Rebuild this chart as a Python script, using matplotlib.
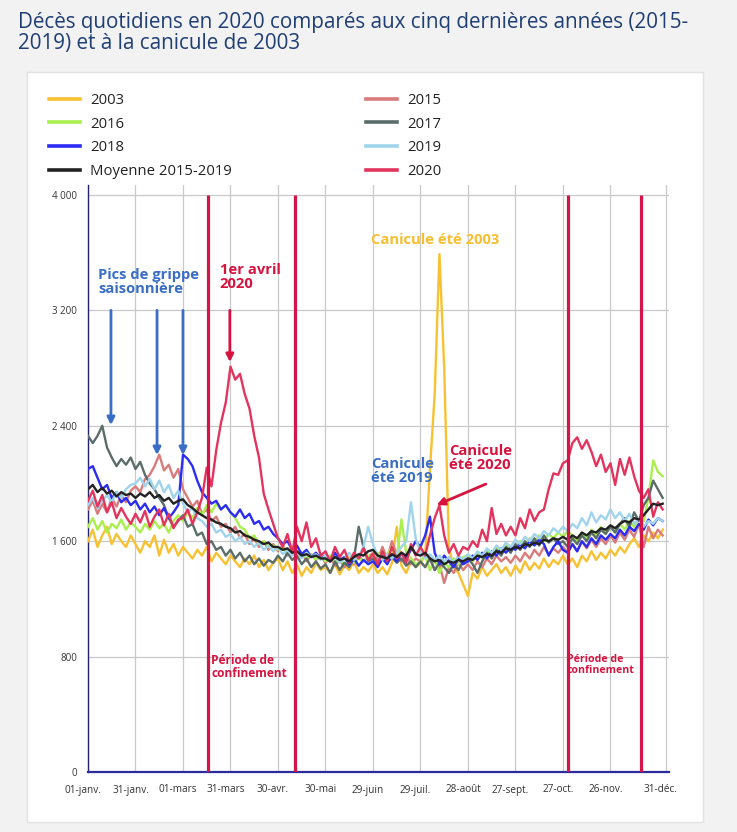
import matplotlib
matplotlib.use('Agg')
import matplotlib.pyplot as plt
import matplotlib.transforms as mtrans
from matplotlib.patches import Rectangle

plt.rcParams['font.family'] = ['Open Sans', 'DejaVu Sans']

# ---------------- data ----------------
days = list(range(0, 366, 3))  # day of year (0 = 1 Jan), sampled every 3 days

tick_days = [0, 30, 60, 90, 120, 150, 180, 210, 240, 270, 300, 330, 365]
tick_labels = ['01-janv.', '31-janv.', '01-mars', '31-mars', '30-avr.', '30-mai',
               '29-juin', '29-juil.', '28-août', '27-sept.', '27-oct.', '26-nov.', '31-déc.']
y_ticks = [0, 800, 1600, 2400, 3200, 4000]
y_tick_labels = ['0', '800', '1 600', '2 400', '3 200', '4 000']
confinement_days = [76, 131, 303, 349]

y2003 = [
    1600, 1680, 1560, 1640, 1700, 1580, 1650, 1600, 1560, 1640,
    1580, 1520, 1600, 1560, 1640, 1500, 1610, 1520, 1580, 1500,
    1560, 1520, 1480, 1540, 1500, 1560, 1460, 1520, 1480, 1440,
    1500, 1460, 1420, 1480, 1440, 1500, 1420, 1470, 1400, 1450,
    1480, 1400, 1460, 1380, 1440, 1360, 1420, 1380, 1450, 1400,
    1420, 1380, 1440, 1370, 1430, 1400, 1460, 1380, 1420, 1390,
    1440, 1380, 1420, 1370, 1450, 1700, 1430, 1380, 1460, 1420,
    1450, 1500, 2100, 2620, 3590, 2800, 1550, 1420, 1380, 1300,
    1220, 1380, 1340, 1420, 1360, 1400, 1440, 1380, 1420, 1360,
    1430, 1380, 1460, 1400, 1450, 1410, 1480, 1420, 1470, 1440,
    1500, 1440, 1480, 1420, 1500, 1460, 1530, 1470, 1520, 1480,
    1540, 1500, 1560, 1520, 1580, 1620, 1560, 1640, 1600, 1660,
    1620, 1680]

y2015 = [
    1820, 1880, 1790, 1860, 1800, 1900, 1840, 1920, 1870, 1950,
    1980, 1940, 2030, 2060, 2120, 2200, 2090, 2130, 2040, 2100,
    1960, 1900, 1840, 1880, 1790, 1820, 1740, 1770, 1700, 1720,
    1660, 1700, 1620, 1650, 1580, 1620, 1560, 1600, 1540, 1580,
    1530, 1570, 1500, 1550, 1480, 1520, 1460, 1510, 1470, 1500,
    1450, 1490, 1430, 1470, 1420, 1480, 1440, 1500, 1460, 1490,
    1520, 1470, 1560, 1480, 1600, 1510, 1460, 1500, 1440, 1480,
    1460, 1420, 1480, 1400, 1440, 1310, 1420, 1380, 1450, 1400,
    1440, 1400, 1460, 1420, 1480, 1440, 1500, 1460, 1490, 1450,
    1500, 1460, 1520, 1480, 1540, 1500, 1560, 1510, 1550, 1520,
    1560, 1520, 1580, 1530, 1600, 1550, 1610, 1560, 1620, 1580,
    1640, 1590, 1660, 1610, 1680, 1630, 1720, 1560, 1700, 1620,
    1680, 1640]

y2016 = [
    1700, 1760, 1680, 1740, 1660, 1720, 1690, 1750, 1680, 1730,
    1700, 1660, 1720, 1680, 1740, 1690, 1720, 1660, 1740, 1780,
    1740, 1800, 1760, 1830, 1780, 1850, 1800, 1860, 1820, 1850,
    1800, 1760, 1700, 1680, 1620, 1640, 1580, 1600, 1560, 1570,
    1540, 1560, 1510, 1540, 1490, 1520, 1480, 1510, 1470, 1500,
    1460, 1500, 1450, 1480, 1440, 1490, 1450, 1480, 1460, 1500,
    1480, 1520, 1470, 1510, 1560, 1480, 1750, 1520, 1480, 1440,
    1460, 1500, 1400, 1470, 1380, 1450, 1420, 1480, 1440, 1490,
    1500, 1460, 1520, 1480, 1540, 1500, 1560, 1520, 1580, 1540,
    1560, 1600, 1570, 1620, 1580, 1640, 1600, 1650, 1620, 1660,
    1630, 1670, 1640, 1600, 1660, 1620, 1680, 1640, 1700, 1660,
    1700, 1660, 1720, 1680, 1740, 1700, 1760, 1740, 1900, 2160,
    2080, 2050]

y2017 = [
    2330, 2280, 2330, 2400, 2250, 2180, 2120, 2170, 2130, 2180,
    2100, 2150, 2060, 2000, 1960, 1900, 1850, 1760, 1700, 1740,
    1780, 1700, 1720, 1640, 1660, 1580, 1600, 1540, 1560, 1500,
    1540, 1480, 1520, 1460, 1500, 1440, 1480, 1430, 1470, 1450,
    1500, 1460, 1520, 1470, 1500, 1440, 1480, 1420, 1460, 1410,
    1440, 1380, 1460, 1400, 1450, 1420, 1480, 1700, 1560, 1460,
    1480, 1440, 1500, 1460, 1490, 1450, 1480, 1430, 1460, 1420,
    1460, 1420, 1480, 1400, 1450, 1420, 1380, 1440, 1400, 1460,
    1480, 1440, 1380, 1460, 1520, 1480, 1540, 1500, 1560, 1520,
    1580, 1540, 1600, 1560, 1620, 1570, 1640, 1590, 1620, 1580,
    1600, 1560, 1620, 1580, 1640, 1600, 1660, 1620, 1680, 1650,
    1700, 1660, 1720, 1760, 1700, 1800, 1740, 1850, 1900, 2020,
    1960, 1900]

y2018 = [
    2100, 2120, 2040, 1960, 1990, 1900, 1940, 1870, 1900, 1850,
    1880, 1820, 1860, 1800, 1840, 1780, 1830, 1760, 1800, 1850,
    2200, 2170, 2120, 2020, 1940, 1900, 1860, 1880, 1820, 1850,
    1800, 1770, 1820, 1760, 1790, 1720, 1740, 1680, 1700, 1650,
    1620, 1580, 1600, 1540, 1570, 1510, 1540, 1490, 1520, 1480,
    1500, 1460, 1520, 1470, 1490, 1440, 1480, 1430, 1470, 1440,
    1460, 1420, 1480, 1440, 1500, 1460, 1520, 1480, 1540, 1600,
    1560, 1640, 1770, 1520, 1440, 1500, 1460, 1420, 1480, 1440,
    1460, 1500, 1470, 1520, 1480, 1530, 1500, 1550, 1520, 1560,
    1540, 1580, 1550, 1600, 1570, 1610, 1580, 1500, 1560, 1600,
    1540, 1520, 1580, 1530, 1600, 1560, 1620, 1580, 1640, 1610,
    1650, 1620, 1680, 1640, 1700, 1670, 1720, 1680, 1750, 1710,
    1760, 1740]

y2019 = [
    1850, 1900, 1830, 1880, 1920, 1870, 1940, 1900, 1960, 1990,
    2000, 2040, 1980, 2030, 1960, 2020, 1940, 1990, 1900, 1950,
    1860, 1800, 1830, 1760, 1740, 1700, 1720, 1660, 1680, 1630,
    1650, 1600, 1630, 1580, 1600, 1560, 1590, 1540, 1570, 1530,
    1560, 1510, 1540, 1500, 1530, 1480, 1520, 1490, 1510, 1470,
    1500, 1460, 1490, 1450, 1480, 1520, 1470, 1500, 1560, 1700,
    1580, 1500, 1470, 1510, 1480, 1520, 1560, 1600, 1870, 1620,
    1520, 1480, 1510, 1470, 1500, 1460, 1490, 1450, 1500, 1470,
    1510, 1480, 1530, 1500, 1550, 1520, 1570, 1540, 1590, 1560,
    1610, 1580, 1630, 1600, 1650, 1620, 1670, 1640, 1690, 1660,
    1700, 1670, 1720, 1690, 1760, 1710, 1800, 1730, 1780, 1750,
    1820, 1760, 1800, 1740, 1790, 1720, 1760, 1700, 1740, 1720,
    1760, 1740]

y_mean = [
    1960, 1990, 1940, 1970, 1930, 1950, 1910, 1940, 1920, 1930,
    1900, 1930, 1910, 1940, 1900, 1920, 1880, 1900, 1860, 1880,
    1890, 1850, 1830, 1800, 1780, 1760, 1750, 1730, 1720, 1700,
    1690, 1660, 1670, 1640, 1630, 1610, 1600, 1580, 1590, 1560,
    1560, 1540, 1550, 1520, 1530, 1500, 1510, 1490, 1500, 1480,
    1480, 1460, 1490, 1470, 1480, 1460, 1490, 1510, 1500, 1530,
    1540, 1500, 1490, 1480, 1510, 1490, 1520, 1500, 1560, 1510,
    1500, 1520, 1480, 1460, 1470, 1440, 1460, 1450, 1470, 1460,
    1480, 1470, 1500, 1490, 1510, 1500, 1530, 1520, 1550, 1540,
    1560, 1550, 1580, 1570, 1590, 1580, 1610, 1600, 1620, 1610,
    1630, 1610, 1640, 1620, 1660, 1640, 1670, 1660, 1690, 1680,
    1710, 1690, 1720, 1740, 1730, 1760, 1750, 1780, 1820, 1860,
    1850, 1860]

y2020 = [
    1880, 1950, 1840, 1920, 1800, 1870, 1760, 1830, 1770, 1720,
    1790, 1730, 1810, 1700, 1770, 1820, 1710, 1790, 1690, 1750,
    1760, 1820, 1720, 1800, 1900, 2110, 1980, 2230, 2420, 2560,
    2810, 2720, 2760, 2620, 2520, 2330, 2180, 1930, 1820, 1720,
    1620, 1560, 1650, 1520, 1700, 1600, 1730, 1560, 1620, 1500,
    1530, 1460, 1560, 1490, 1540, 1450, 1520, 1480, 1550, 1470,
    1510, 1440, 1530, 1460, 1560, 1480, 1520, 1450, 1580, 1500,
    1560, 1500, 1640, 1760, 1850, 1640, 1520, 1580, 1500, 1560,
    1540, 1600, 1560, 1680, 1600, 1830, 1650, 1720, 1640, 1700,
    1640, 1760, 1690, 1820, 1740, 1800, 1820, 1960, 2070, 2060,
    2140, 2160, 2280, 2320, 2240, 2300, 2220, 2120, 2200, 2080,
    2140, 1990, 2170, 2060, 2180, 2050, 1950, 1900, 1960, 1770,
    1870, 1820]

series = [
    ('2003', y2003, '#f7c131'),
    ('2015', y2015, '#d97b7b'),
    ('2016', y2016, '#a9f04d'),
    ('2017', y2017, '#5b6d69'),
    ('2018', y2018, '#2b2cf3'),
    ('2019', y2019, '#a0d4ec'),
    ('2020', y2020, '#e2345d'),
    ('Moyenne 2015-2019', y_mean, '#222222'),
]
legend_order = ['2003', '2016', '2018', 'Moyenne 2015-2019', '2015', '2017', '2019', '2020']

# ---------------- figure ----------------
W, H = 737, 832
fig = plt.figure(figsize=(W / 100, H / 100), dpi=100)
fig.patch.set_facecolor('#f2f2f2')
panel = Rectangle((27 / W, 10 / H), 676 / W, 750 / H, transform=fig.transFigure,
                  facecolor='white', edgecolor='#e2e2e2', lw=1, zorder=-10)
fig.add_artist(panel)

ax = fig.add_axes([88 / W, 60 / H, 581 / W, 587 / H])
ax.set_zorder(2)
ax.set_facecolor('white')

lines = {}
for name, vals, col in series:
    ln, = ax.plot(days, vals, color=col, lw=1.7, label=name, zorder=3,
                  solid_joinstyle='round')
    lines[name] = ln

red = '#d4154a'
ax.vlines(confinement_days, 0, 4000, color=red, lw=2.3, zorder=5)

ax.set_xlim(0, 367)
ax.set_ylim(0, 4069)
ax.set_xticks(tick_days)
ax.set_xticklabels(tick_labels, fontsize=7.2, color='#333333')
ax.set_yticks(y_ticks)
ax.set_yticklabels(y_tick_labels, fontsize=7, color='#333333')
ax.tick_params(axis='both', length=0)
ax.tick_params(axis='y', pad=8)
ax.tick_params(axis='x', pad=9)
off = mtrans.ScaledTranslation(-5 / 100, 0, fig.dpi_scale_trans)
for lab in ax.get_xticklabels():
    lab.set_transform(lab.get_transform() + off)

ax.grid(True, color='#c9c9c9', lw=0.9)
ax.set_axisbelow(True)
for s in ['top', 'right']:
    ax.spines[s].set_visible(False)
ax.spines['left'].set_color('#22226e')
ax.spines['left'].set_linewidth(1.0)
ax.spines['bottom'].set_color('#2b2b9c')
ax.spines['bottom'].set_linewidth(1.6)

# ---------------- annotations ----------------
blue_t = '#3a6ec4'
gold_t = '#f7bf2f'
red_t = '#d6133f'
bold = dict(fontweight='bold', fontsize=10.6, linespacing=1.0, va='top', ha='left', zorder=6)

ax.text(6.3, 3494, 'Pics de grippe\nsaisonnière', color=blue_t, **bold)
for xd, yt in [(14.5, 2405), (43.6, 2197), (60.0, 2197)]:
    ax.annotate('', xy=(xd, yt), xytext=(xd, 3200),
                arrowprops=dict(arrowstyle='-|>', color=blue_t, lw=2.0, mutation_scale=11,
                                shrinkA=0, shrinkB=0), zorder=6)

ax.text(83.3, 3528, '1er avril\n2020', color=red_t, **bold)
ax.annotate('', xy=(89.6, 2842), xytext=(89.6, 3200),
            arrowprops=dict(arrowstyle='-|>', color=red_t, lw=2.0, mutation_scale=11,
                            shrinkA=0, shrinkB=0), zorder=6)

ax.text(178.7, 3736, 'Canicule été 2003', color=gold_t, **bold)
ax.text(178.7, 2184, 'Canicule\nété 2019', color=blue_t, **bold)
ax.text(228.0, 2274, 'Canicule\nété 2020', color=red_t, **bold)
ax.annotate('', xy=(220.3, 1851), xytext=(251.3, 1996),
            arrowprops=dict(arrowstyle='-|>', color=red_t, lw=2.0, mutation_scale=11,
                            shrinkA=0, shrinkB=0), zorder=6)

ax.text(77.7, 818, 'Période de\nconfinement', color=red_t, fontweight='bold', fontsize=8.6,
        linespacing=1.0, va='top', ha='left', zorder=6)
ax.text(302.4, 818, 'Période de\nconfinement', color=red_t, fontweight='bold', fontsize=7.6,
        linespacing=1.0, va='top', ha='left', zorder=6)

# ---------------- legend ----------------
handles = [lines[n] for n in legend_order]
leg = fig.legend(handles, legend_order, ncol=2, loc='upper left',
                 bbox_to_anchor=(49 / W, 1 - 93 / H), frameon=False, fontsize=10.7,
                 handlelength=2.1, handletextpad=0.65, columnspacing=9.05,
                 labelspacing=0.58, borderaxespad=0, borderpad=0)
for t in leg.get_texts():
    t.set_color('#222222')
for l in leg.get_lines():
    l.set_linewidth(2.6)

# ---------------- title ----------------
fig.text(18 / W, 1 - 12 / H,
         'Décès quotidiens en 2020 comparés aux cinq dernières années (2015-\n2019) et à la canicule de 2003',
         color='#1f3e74', fontsize=14.9, va='top', ha='left', linespacing=1.0)

fig.savefig('out.png', dpi=100, facecolor=fig.get_facecolor())
